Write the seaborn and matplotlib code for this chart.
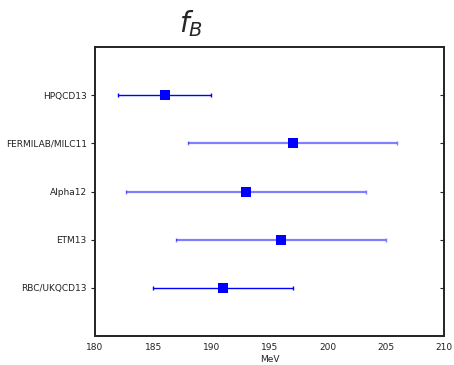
import matplotlib
matplotlib.use("Agg")
import matplotlib.pyplot as plt
import seaborn as sns
import pandas as pd

labels = ["HPQCD13", "FERMILAB/MILC11", "Alpha12", "ETM13", "RBC/UKQCD13"]
values = [186.0, 197.0, 193.0, 196.0, 191.0]
errors = [4.0, 9.0, 10.3, 9.0, 6.0]
faded = [False, True, True, True, False]

sns.set_theme(style="white")
plt.rcParams['font.family'] = ['DejaVu Sans']

pos = [5, 4, 3, 2, 1]
df = pd.DataFrame({"label": labels, "value": values, "err": errors, "pos": pos, "faded": faded})

fig = plt.figure(figsize=(4.54, 3.65), dpi=100)
ax = fig.add_axes([95/454, 1-336/365, (444-95)/454, (336-47)/365])

for _, r in df.iterrows():
    ax.errorbar(r["value"], r["pos"], xerr=r["err"], fmt="none",
                ecolor="blue", elinewidth=1.6 if r["faded"] else 1.0,
                capsize=1.5, capthick=1.0,
                alpha=0.5 if r["faded"] else 1.0, zorder=2)
sns.scatterplot(data=df, x="value", y="pos", marker="s", s=48, color="blue",
                edgecolor="blue", linewidth=0, ax=ax, zorder=3, legend=False)

ax.set_xlim(180, 210)
ax.set_ylim(0, 6)
ax.set_xticks([180, 185, 190, 195, 200, 205, 210])
ax.set_yticks(pos)
ax.set_yticklabels(labels)
ax.set_xlabel("MeV", fontsize=6.5, labelpad=2, color="#222222")
ax.set_ylabel("")
ax.tick_params(axis="x", direction="in", length=3, width=0.6, labelsize=6.5, pad=5,
               color="#555555", labelcolor="#222222")
ax.tick_params(axis="y", direction="out", length=3, width=0.8, labelsize=6.5, pad=3,
               left=True, labelcolor="#222222", color="#222222")
for s in ax.spines.values():
    s.set_color("black")
    s.set_linewidth(1.1)

ax2 = ax.twinx()
ax2.set_ylim(ax.get_ylim())
ax2.set_yticks(pos)
ax2.set_yticklabels([])
ax2.tick_params(axis="y", direction="in", length=3, width=0.8, right=True, color="#222222")
ax2.grid(False)
ax.grid(False)

fig.text(191/454, 1-24/365, r"$f_B$", fontsize=20, ha="center", va="center")

fig.savefig("out.png", dpi=100)
